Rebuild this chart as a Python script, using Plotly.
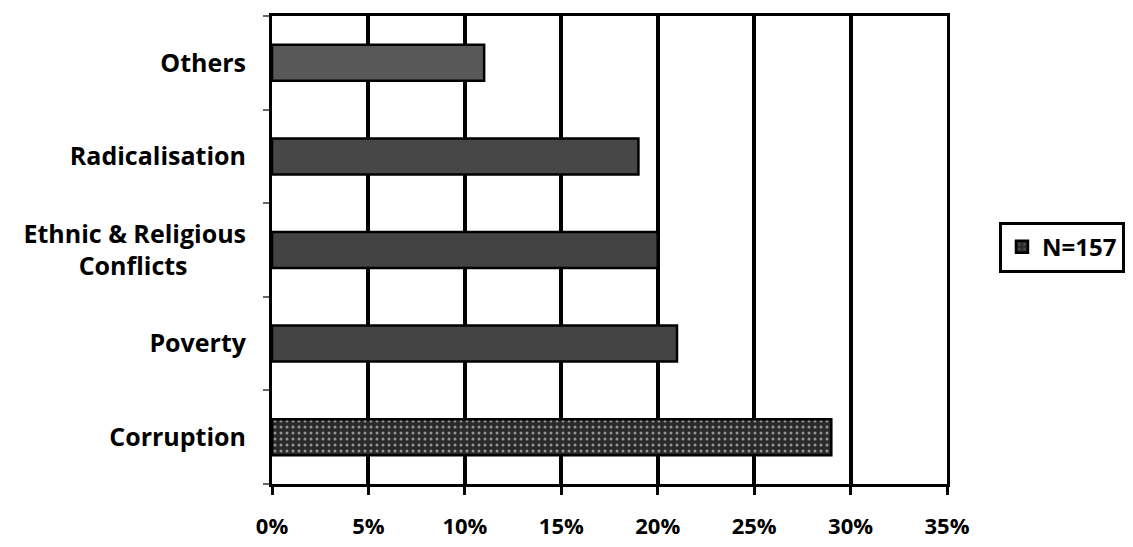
import plotly.graph_objects as go

categories = ["Corruption", "Poverty", "Ethnic & Religious Conflicts", "Radicalisation", "Others"]
category_labels = ["Corruption", "Poverty", "Ethnic & Religious<br>Conflicts" + "\u00a0" * 9, "Radicalisation", "Others"]
values = [0.29, 0.21, 0.20, 0.19, 0.11]
series_name = "N=157"
tick_vals = [0, 0.05, 0.10, 0.15, 0.20, 0.25, 0.30, 0.35]
tick_text = ["0%", "5%", "10%", "15%", "20%", "25%", "30%", "35%"]

FONT = "Open Sans"
bar_colors = ["#2a2a2a", "#444444", "#424242", "#474747", "#585858"]
bar_patterns = [".", "", "", "", ""]

fig = go.Figure()
fig.add_trace(go.Bar(
    y=categories, x=values, orientation="h", name=series_name,
    width=0.385,
    marker=dict(color=bar_colors,
                line=dict(color="black", width=2.5),
                pattern=dict(shape=bar_patterns, fgcolor="#7a7a7a",
                             size=6, solidity=0.2, fillmode="overlay")),
    showlegend=True,
))

# page body has an 8px margin: figure is sized so that the plot area lands at x 272-947, y 16-484
fig.update_layout(
    width=1125, height=539,
    margin=dict(l=264, r=186, t=8, b=63, autoexpand=False),
    paper_bgcolor="white", plot_bgcolor="white",
    font=dict(family=FONT, size=22, color="black"),
    showlegend=True,
    legend=dict(x=1.077, y=0.506, xanchor="left", yanchor="middle",
                bordercolor="black", borderwidth=3,
                font=dict(family=FONT, size=24, color="black", weight="bold"),
                itemwidth=30, tracegroupgap=0),
)
fig.update_xaxes(
    range=[0, 0.35], tickvals=tick_vals, ticktext=tick_text,
    showgrid=True, gridcolor="black", gridwidth=3.5,
    showline=True, linecolor="black", linewidth=3, mirror=True,
    ticks="outside", ticklen=8, tickwidth=3, tickcolor="black",
    ticklabelstandoff=13,
    tickfont=dict(family=FONT, size=22, color="black", weight="bold"),
    zeroline=False,
)
fig.update_yaxes(
    categoryorder="array", categoryarray=categories,
    tickvals=categories, ticktext=category_labels,
    showgrid=False,
    showline=True, linecolor="black", linewidth=3, mirror=True,
    ticks="outside", tickson="boundaries", ticklen=6, tickwidth=2, tickcolor="#666666",
    ticklabelstandoff=18,
    tickfont=dict(family=FONT, size=25, color="black", weight="bold"),
)

fig.write_html("out.html")
